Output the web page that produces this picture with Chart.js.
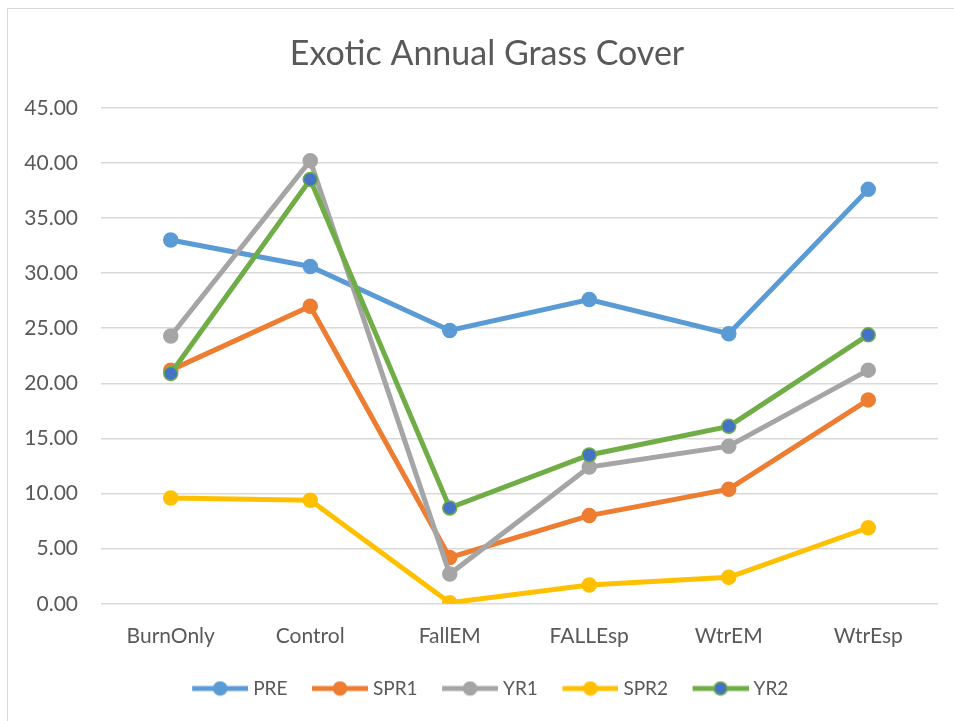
<!DOCTYPE html>
<html>
<head>
<meta charset="utf-8">
<script src="https://cdn.jsdelivr.net/npm/chart.js@4"></script>
<style>
	html, body { margin: 0; padding: 0; background: #fff; overflow: hidden; }
	#frame { position: absolute; left: 7px; top: 8px; width: 1200px; height: 1000px; border: 1px solid #d9d9d9; box-sizing: border-box; }
	#wrap { position: absolute; left: 0; top: 0; width: 974px; height: 721px; }
</style>
</head>
<body>
<div id="frame"></div>
<div id="wrap"><canvas id="grassChart"></canvas></div>
<script>
	"use strict";

	// Categories (treatments)
	const categories = ["BurnOnly", "Control", "FallEM", "FALLEsp", "WtrEM", "WtrEsp"];

	// Series values
	const pre = [33.0, 30.6, 24.8, 27.6, 24.5, 37.6];
	const spr1 = [21.2, 27.0, 4.2, 8.0, 10.4, 18.5];
	const yr1 = [24.3, 40.2, 2.7, 12.4, 14.3, 21.2];
	const spr2 = [9.6, 9.4, 0.1, 1.7, 2.4, 6.9];
	const yr2 = [20.9, 38.5, 8.7, 13.5, 16.1, 24.4];

	const series_names = ["PRE", "SPR1", "YR1", "SPR2", "YR2"];

	const text_color = "#595959";
	const font_family = "Lato, 'Open Sans', sans-serif";

	let series_styles = [
		{ data: pre, line: "#5B9BD5", fill: "#5B9BD5" },
		{ data: spr1, line: "#ED7D31", fill: "#ED7D31" },
		{ data: yr1, line: "#A5A5A5", fill: "#A5A5A5" },
		{ data: spr2, line: "#FFC000", fill: "#FFC000" },
		{ data: yr2, line: "#70AD47", fill: "#4472C4" },
	];

	// legend swatch: 56px line with a marker in the middle, sitting in the right part of the image
	const SW_BOX = 58;
	function make_swatch(line, fill) {
		let c = document.createElement("canvas");
		c.width = 67;
		c.height = 16;
		let ctx = c.getContext("2d");
		ctx.strokeStyle = line;
		ctx.lineWidth = 5;
		ctx.lineCap = "butt";
		ctx.beginPath();
		ctx.moveTo(11, 8);
		ctx.lineTo(67, 8);
		ctx.stroke();
		ctx.beginPath();
		ctx.arc(39, 8, 6.5, 0, Math.PI * 2);
		ctx.fillStyle = fill;
		ctx.fill();
		ctx.lineWidth = 1.5;
		ctx.strokeStyle = line;
		ctx.stroke();
		return c;
	}

	let datasets = series_styles.map((s, i) => ({
		label: series_names[i],
		data: s.data,
		borderColor: s.line,
		backgroundColor: s.fill,
		borderWidth: 5,
		pointRadius: 7,
		pointHoverRadius: 7,
		pointBackgroundColor: s.fill,
		pointBorderColor: s.line,
		pointBorderWidth: 1.5,
		tension: 0,
		order: series_names.length - i,
		swatch: make_swatch(s.line, s.fill),
	}));

	// title and legend are centred on the whole chart, not only left of the right padding
	const centre_blocks = {
		id: "centreBlocks",
		afterLayout(chart) {
			let w = chart.width;
			if (chart.titleBlock) chart.titleBlock.right = w;
			if (chart.legend) chart.legend.right = w;
		},
	};

	let ctx = document.getElementById("grassChart").getContext("2d");
	new Chart(ctx, {
		type: "line",
		data: {
			labels: categories,
			datasets: datasets,
		},
		plugins: [centre_blocks],
		options: {
			responsive: true,
			maintainAspectRatio: false,
			animation: false,
			layout: {
				padding: { top: 0, left: 0, right: 36, bottom: 13 },
			},
			plugins: {
				title: {
					display: true,
					text: "Exotic Annual Grass Cover",
					color: text_color,
					font: { family: font_family, size: 34, weight: "normal" },
					padding: { top: 34, bottom: 33 },
				},
				legend: {
					position: "bottom",
					labels: {
						usePointStyle: true,
						pointStyleWidth: SW_BOX,
						padding: 18,
						color: text_color,
						font: { family: font_family, size: 19 },
						generateLabels: (chart) =>
							chart.data.datasets.map((ds, i) => ({
								text: ds.label,
								pointStyle: ds.swatch,
								fillStyle: ds.backgroundColor,
								strokeStyle: ds.borderColor,
								lineWidth: 0,
								fontColor: text_color,
								hidden: !chart.isDatasetVisible(i),
								datasetIndex: i,
							})),
					},
				},
				tooltip: { enabled: false },
			},
			scales: {
				x: {
					offset: true,
					grid: { display: false },
					border: { display: false },
					ticks: {
						color: text_color,
						font: { family: font_family, size: 21 },
						padding: 12,
						maxRotation: 0,
					},
				},
				y: {
					min: 0,
					max: 45,
					afterFit: (scale) => {
						scale.width = 101;
					},
					grid: { color: "#d9d9d9", lineWidth: 1.5, drawTicks: false },
					border: { display: false },
					ticks: {
						stepSize: 5,
						padding: 23,
						color: text_color,
						font: { family: font_family, size: 21 },
						callback: (v) => v.toFixed(2),
					},
				},
			},
		},
	});
</script>
</body>
</html>
